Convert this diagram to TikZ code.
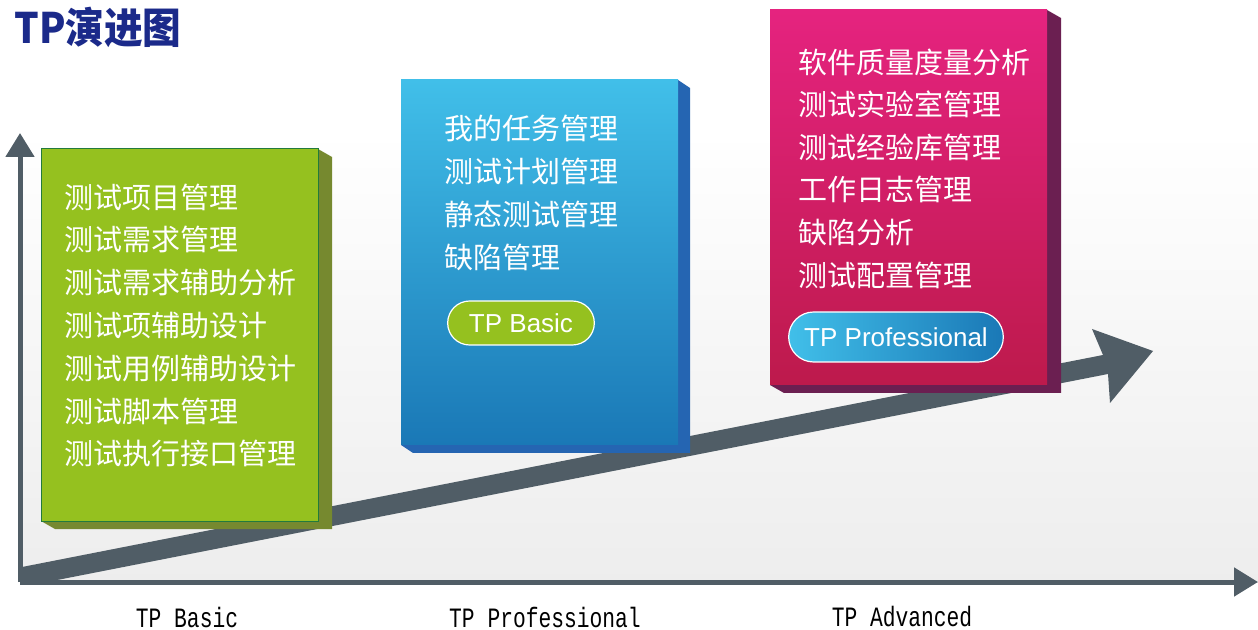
\documentclass[tikz,border=0pt]{standalone}
\usepackage{fontspec}
\setmainfont{Liberation Sans}
\newfontfamily\cjk{Noto Sans CJK SC}
\newfontfamily\monofont{Liberation Mono}
\usetikzlibrary{arrows.meta,shapes.misc}

\definecolor{axisgray}{HTML}{505D66}
\definecolor{titleblue}{HTML}{1B2A8A}
\definecolor{basicgreen}{HTML}{95C11F}
\definecolor{basicside}{HTML}{76892F}
\definecolor{basicline}{HTML}{237A3C}
\definecolor{protop}{HTML}{41BFE9}
\definecolor{probottom}{HTML}{1A78B6}
\definecolor{proside}{HTML}{2565B2}
\definecolor{advtop}{HTML}{E5237F}
\definecolor{advbottom}{HTML}{BD1A4C}
\definecolor{advside}{HTML}{6B1F51}

\tikzset{
  item/.style={anchor=west, text=white, inner sep=0pt,
    font=\cjk\fontsize{14.5}{16}\selectfont},
  pill/.style={rounded rectangle, draw=white, line width=0.6pt, text=white,
    font=\fontsize{13}{15}\selectfont},
  stage/.style={inner sep=0pt, font=\monofont\fontsize{14}{16}\selectfont},
  axis/.style={line width=2.5pt, draw=axisgray, -{Triangle[length=12pt,width=14pt]}}
}

\begin{document}
\begin{tikzpicture}[x=0.5pt,y=-0.5pt]
\useasboundingbox (0,0) rectangle (1258,630);
% background
\shade[top color=white, bottom color=black!7] (20,130) rectangle (1258,582);
\node[anchor=west, text=titleblue, inner sep=0pt, font=\cjk\bfseries\fontsize{21}{23}\selectfont] (title) at (14,27) {\scalebox{0.92}[1]{TP演进图}};
% rising arrow
\fill[axisgray] (22,567) -- (1103,355) -- (1092,329) -- (1153,351) -- (1110,403) -- (1108,374) -- (47,582) -- (22,582) -- cycle;

% TP Basic
\fill[basicside] (318,149) -- (332,157) -- (332,529) -- (55,529) -- (41,521) -- cycle;
\fill[basicgreen, draw=basicline, line width=0.5pt] (41,149) rectangle (318,521);
\foreach \t [count=\i] in {测试项目管理,测试需求管理,测试需求辅助分析,测试项辅助设计,测试用例辅助设计,测试脚本管理,测试执行接口管理}
  \node[item] (b\i) at (64,{197+42.8*(\i-1)}) {\t};

% TP Professional
\fill[proside] (678,80) -- (690,88) -- (690,453) -- (413,453) -- (401,445) -- cycle;
\shade[top color=protop, bottom color=probottom] (401,80) rectangle (678,445);
\foreach \t [count=\i] in {我的任务管理,测试计划管理,静态测试管理,缺陷管理}
  \node[item] (p\i) at (444,{128+43*(\i-1)}) {\t};
\node[pill, fill=basicgreen, minimum width=80pt, minimum height=22pt] (pbasic) at (521,323) {TP Basic\hspace{6pt}};

% TP Advanced
\fill[advside] (1047,10) -- (1061,18) -- (1061,393) -- (784,393) -- (770,385) -- cycle;
\shade[top color=advtop, bottom color=advbottom] (770,10) rectangle (1047,385);
\foreach \t [count=\i] in {软件质量度量分析,测试实验室管理,测试经验库管理,工作日志管理,缺陷分析,测试配置管理}
  \node[item] (a\i) at (798,{62+42.6*(\i-1)}) {\t};
\node[pill, left color=protop, right color=probottom, minimum width=114pt, minimum height=25pt] (apro) at (896,337) {TP Professional};

% axes
\coordinate (o) at (20,582);
\coordinate (ytop) at (20,133);
\coordinate (xend) at (1258,582);
\draw[axis] (o) -- (ytop);
\draw[axis] (o) -- (xend);

\node[stage] (s1) at (187,617) {\scalebox{0.76}[1]{TP Basic}};
\node[stage] (s2) at (545,617) {\scalebox{0.76}[1]{TP Professional}};
\node[stage] (s3) at (902,617) {\scalebox{0.76}[1]{TP Advanced}};
\end{tikzpicture}
\end{document}
